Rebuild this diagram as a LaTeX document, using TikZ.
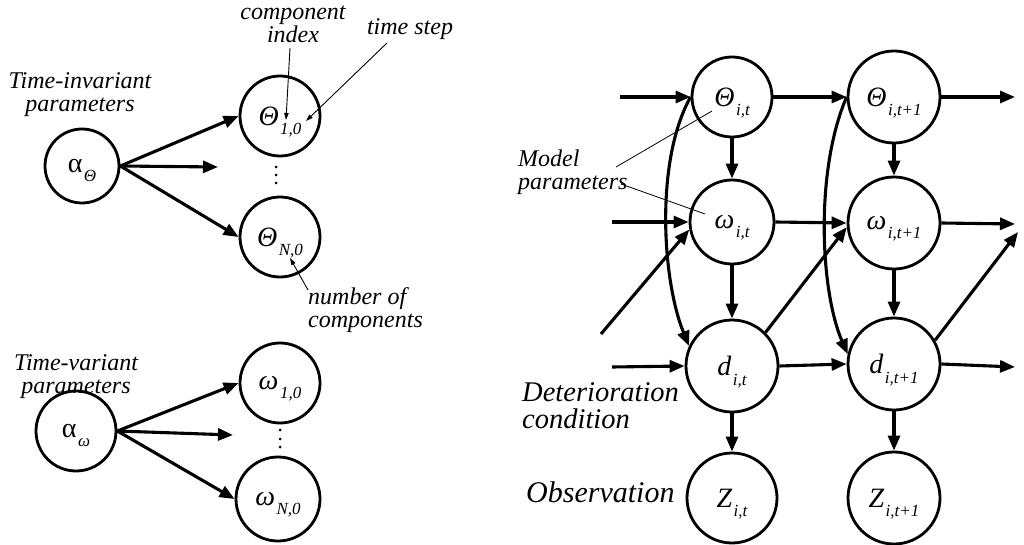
\documentclass[tikz,border=0pt]{standalone}
\usepackage{fontspec}
\setmainfont{Liberation Serif}[
  UprightFont={Liberation Serif},
  ItalicFont={Liberation Serif Italic},
  BoldFont={Liberation Serif Bold}]
\usetikzlibrary{arrows.meta}

% symbol with a lowered subscript, as used inside the variable circles
\newcommand\bigsym[1]{{\fontsize{28}{28}\selectfont #1}}
\newcommand\lowsub[1]{\kern1.5pt\raisebox{-9.5pt}[0pt][0pt]{\fontsize{17}{17}\selectfont\itshape #1}}

\begin{document}
\begin{tikzpicture}[x=1pt,y=-1pt,
  var/.style={circle, draw, line width=2.8pt, inner sep=0pt, minimum size=80pt},
  edge/.style={line width=3.1pt, -{Triangle[length=15pt,width=12pt]}},
  pointer/.style={line width=0.9pt, -{Triangle[length=7pt,width=4.5pt]}},
  note/.style={line width=0.8pt},
  lbl/.style={font=\fontsize{24}{23}\selectfont\itshape, inner sep=0pt},
  detlbl/.style={font=\fontsize{28.5}{27}\selectfont\itshape, inner sep=0pt},
  obslbl/.style={font=\fontsize{30}{30}\selectfont\itshape, inner sep=0pt},
  dot/.style={fill=black}]
\useasboundingbox (0,0) rectangle (1024,545);

% ---------- prior parameter nodes (left) ----------
\node[var, minimum size=74pt] (aT) at (82,166) {\bigsym{α}\lowsub{Θ}};
\node[var] (T1) at (280,116) {\bigsym{\itshape Θ}\lowsub{1,0}};
\node[var] (TN) at (280,237) {\bigsym{\itshape Θ}\lowsub{N,0}};
\coordinate (aTmid) at (218,167);

\node[var, minimum size=80pt] (aW) at (76,431) {\bigsym{α}\lowsub{ω}};
\node[var] (W1) at (280,383) {\bigsym{\itshape ω}\lowsub{1,0}};
\node[var, minimum size=84pt] (WN) at (278,499) {\bigsym{\itshape ω}\lowsub{N,0}};
\coordinate (aWmid) at (233,435);

\draw[edge] (aT.east) -- (T1.west);
\draw[edge] (aT.east) -- (aTmid);
\draw[edge] (aT.east) -- (TN.west);
\draw[edge] (aW.east) -- (W1.west);
\draw[edge] (aW.east) -- (aWmid);
\draw[edge] (aW.east) -- (WN.west);

% vertical ellipses between first and N-th component
\foreach \yy in {167,175,183} \fill[dot] (276,\yy) circle (1.5);
\foreach \yy in {430,439,447} \fill[dot] (280,\yy) circle (1.5);

% labels of the left part
\node[lbl, align=center] (lcomp) at (293,24) {component\\index};
\node[lbl] (lstep) at (410,29) {time step};
\node[lbl, align=center] (ltinv) at (80,95) {Time-invariant\\parameters};
\node[lbl, align=left, anchor=north west] (lnum) at (308,287) {number of\\components};
\node[lbl, align=center] (ltv) at (76,377) {Time-variant\\parameters};

\coordinate (pidx) at (290,48);
\coordinate (pidxend) at (286,120);
\coordinate (pstep) at (387,43);
\coordinate (pstepend) at (306,121);
\coordinate (pnum) at (308,290);
\coordinate (pnumend) at (290,258);
\draw[pointer] (pidx) -- (pidxend);
\draw[pointer] (pstep) -- (pstepend);
\draw[pointer] (pnum) -- (pnumend);

% ---------- two-slice dynamic network (right) ----------
\node[var] (Tt) at (732,97) {\bigsym{\itshape Θ}\lowsub{i,t}};
\node[var, minimum size=84pt] (Wt) at (732,222) {\bigsym{\itshape ω}\lowsub{i,t}};
\node[var, minimum size=92pt] (Dt) at (732,366) {\bigsym{\itshape d}\lowsub{i,t}};
\node[var, minimum size=90pt] (Zt) at (732,498) {\bigsym{\itshape Z}\lowsub{i,t}};

\node[var, minimum size=92pt] (Tn) at (894,97) {\bigsym{\itshape Θ}\lowsub{i,t+1}};
\node[var, minimum size=92pt] (Wn) at (894,223) {\bigsym{\itshape ω}\lowsub{i,t+1}};
\node[var, minimum size=92pt] (Dn) at (894,364) {\bigsym{\itshape d}\lowsub{i,t+1}};
\node[var, minimum size=92pt] (Zn) at (894,498) {\bigsym{\itshape Z}\lowsub{i,t+1}};

\coordinate (inT) at (620,97);
\coordinate (inW) at (612,222);
\coordinate (inD) at (612,367);
\coordinate (inDiag) at (601,334);
\coordinate (outT) at (1015,97);
\coordinate (outW) at (1015,224);
\coordinate (outD) at (1015,367);
\coordinate (outDiag) at (1018,232);

% transitions between slices
\draw[edge] (inT) -- (Tt.west);
\draw[edge] (Tt.east) -- (Tn.west);
\draw[edge] (Tn.east) -- (outT);
\draw[edge] (inW) -- (Wt.west);
\draw[edge] (Wt.east) -- (Wn.west);
\draw[edge] (Wn.east) -- (outW);
\draw[edge] (inD) -- (Dt.west);
\draw[edge] (Dt.east) -- (Dn.west);
\draw[edge] (Dn.east) -- (outD);

% deterioration feeding the next time-variant parameters
\draw[edge] (inDiag) -- (Wt.190);
\draw[edge] (Dt.45) -- (Wn.185);
\draw[edge] (Dn.30) -- (outDiag);

% within-slice dependencies
\draw[edge] (Tt.south) -- (Wt.north);
\draw[edge] (Wt.south) -- (Dt.north);
\draw[edge] (Dt.south) -- (Zt.north);
\draw[edge] (Tn.south) -- (Wn.north);
\draw[edge] (Wn.south) -- (Dn.north);
\draw[edge] (Dn.south) -- (Zn.north);

% time-invariant parameters acting directly on the condition
\draw[edge] (Tt.west) .. controls (655,160) and (662,280) .. (Dt.155);
\draw[edge] (Tn.west) .. controls (815,170) and (820,290) .. (Dn.168);

% labels of the right part
\node[lbl, align=left, anchor=west] (lmod) at (518,172) {Model\\parameters};
\coordinate (mA) at (616,167);
\coordinate (mAend) at (712,111);
\coordinate (mB) at (621,184);
\coordinate (mBend) at (705,214);
\draw[note] (mA) -- (mAend);
\draw[note] (mB) -- (mBend);

\node[detlbl, align=left, anchor=west] (ldet) at (522,406) {Deterioration\\condition};
\node[obslbl, anchor=west] (lobs) at (526,492) {Observation};
\end{tikzpicture}
\end{document}
